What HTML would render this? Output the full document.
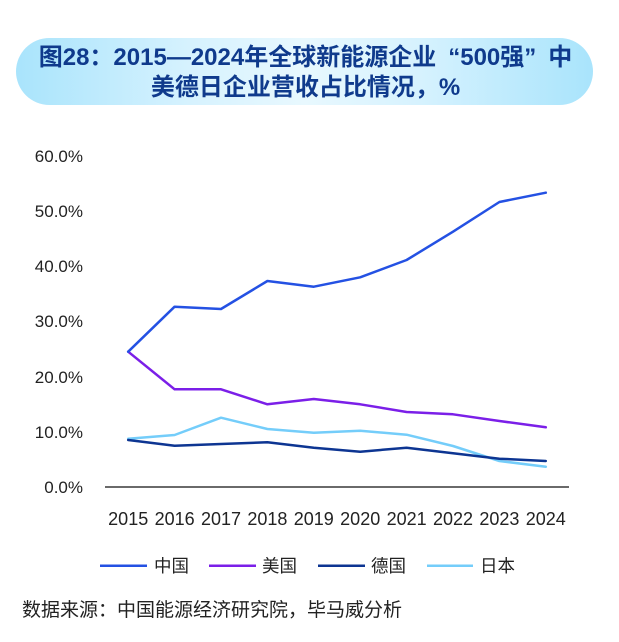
<!DOCTYPE html>
<html>
<head>
<meta charset="utf-8">
<style>
  html,body{margin:0;padding:0;background:#fff;}
  body{width:619px;height:642px;position:relative;overflow:hidden;font-family:"Liberation Sans","Noto Sans CJK SC",sans-serif;}
  .banner{position:absolute;left:16px;top:38px;width:577px;height:67px;border-radius:34px;
    background:linear-gradient(90deg,#a9e4fc 0%,#d6f2fe 30%,#e8f8fe 50%,#d6f2fe 70%,#a9e4fc 100%);}
  .title{position:absolute;left:-4px;top:43px;width:619px;text-align:center;color:#0f3a8c;font-weight:bold;font-size:24px;line-height:29.5px;
    font-family:"Liberation Sans","Noto Sans CJK SC",sans-serif;}
  .ql{display:inline-block;width:24px;text-align:right;}
  .qr{display:inline-block;width:24px;text-align:left;}
  svg{position:absolute;left:0;top:0;}
  .foot{position:absolute;left:22px;top:599px;font-size:19px;color:#222;font-family:"Liberation Sans","Noto Sans CJK SC",sans-serif;line-height:24px;}
</style>
</head>
<body>
<div class="banner"></div>
<div class="title">图28：2015—2024年全球新能源企业<span class="ql">“</span>500强<span class="qr">”</span>中<br>美德日企业营收占比情况，%</div>

<svg width="619" height="642" viewBox="0 0 619 642" xmlns="http://www.w3.org/2000/svg">
  <g font-family="Liberation Sans, Noto Sans CJK SC, sans-serif" font-size="17" fill="#222" text-anchor="end">
    <text x="83" y="162">60.0%</text>
    <text x="83" y="217">50.0%</text>
    <text x="83" y="272">40.0%</text>
    <text x="83" y="327">30.0%</text>
    <text x="83" y="383">20.0%</text>
    <text x="83" y="438">10.0%</text>
    <text x="83" y="493">0.0%</text>
  </g>
  <line x1="105" y1="487" x2="569" y2="487" stroke="#111" stroke-width="1.2"/>
  <g font-family="Liberation Sans, sans-serif" font-size="18" fill="#222" text-anchor="middle">
    <text x="128.2" y="525">2015</text>
    <text x="174.6" y="525">2016</text>
    <text x="221" y="525">2017</text>
    <text x="267.4" y="525">2018</text>
    <text x="313.8" y="525">2019</text>
    <text x="360.2" y="525">2020</text>
    <text x="406.6" y="525">2021</text>
    <text x="453" y="525">2022</text>
    <text x="499.4" y="525">2023</text>
    <text x="545.8" y="525">2024</text>
  </g>
  <g fill="none" stroke-width="2.5" stroke-linejoin="round" stroke-linecap="round">
    <polyline stroke="#74cdfa" points="128.2,438.7 174.6,435 221,417.7 267.4,429 313.8,432.7 360.2,430.7 406.6,434.7 453,446 499.4,461 545.8,466.7"/>
    <polyline stroke="#0d3592" points="128.2,440 174.6,445.7 221,444 267.4,442.3 313.8,447.7 360.2,451.7 406.6,447.7 453,453.3 499.4,458.7 545.8,461"/>
    <polyline stroke="#7b1fe8" points="128.2,351.7 174.6,389.3 221,389.3 267.4,404.3 313.8,399 360.2,404.3 406.6,412 453,414.3 499.4,421 545.8,427.3"/>
    <polyline stroke="#2451e3" points="128.2,351.7 174.6,306.7 221,309 267.4,281 313.8,286.7 360.2,277.3 406.6,260 453,231.7 499.4,202 545.8,192.7"/>
  </g>
  <g stroke-width="2.5">
    <line x1="100" y1="565.7" x2="147" y2="565.7" stroke="#2451e3"/>
    <line x1="209" y1="565.7" x2="256" y2="565.7" stroke="#7b1fe8"/>
    <line x1="318" y1="565.7" x2="365" y2="565.7" stroke="#0d3592"/>
    <line x1="427" y1="565.7" x2="473" y2="565.7" stroke="#74cdfa"/>
  </g>
  <g font-family="Liberation Sans, Noto Sans CJK SC, sans-serif" font-size="17.5" fill="#222">
    <text x="154" y="572">中国</text>
    <text x="262" y="572">美国</text>
    <text x="371" y="572">德国</text>
    <text x="480" y="572">日本</text>
  </g>
</svg>

<div class="foot">数据来源：中国能源经济研究院，毕马威分析</div>
</body>
</html>
